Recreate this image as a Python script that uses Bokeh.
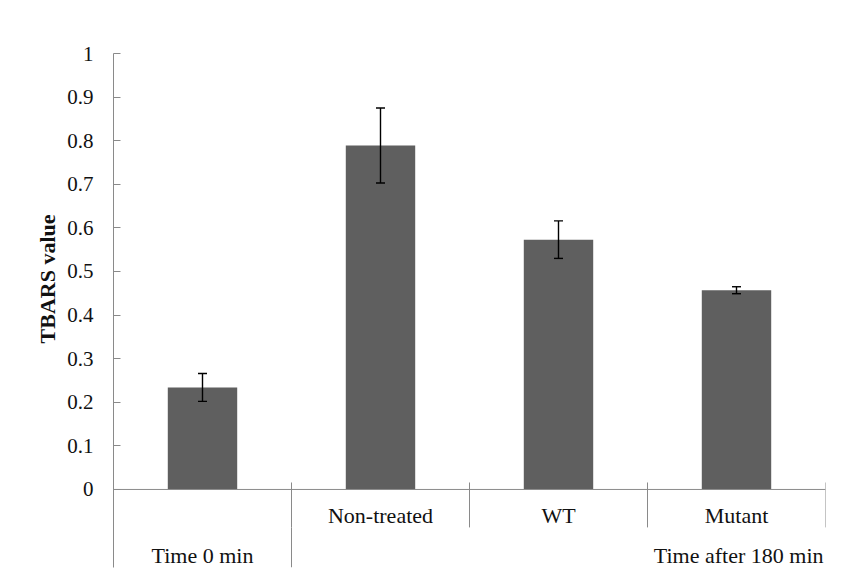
import math
from bokeh.plotting import figure
from bokeh.models import (Range1d, FixedTicker, CustomJSTickFormatter, Whisker, TeeHead,
                          ColumnDataSource, Title)
from bokeh.core.properties import value
from bokeh.embed import file_html
from bokeh.resources import INLINE

# ---- data ----
categories = ["", "Non-treated", "WT", "Mutant"]
tbars_values = [0.234, 0.789, 0.573, 0.457]
tbars_errors = [0.032, 0.086, 0.043, 0.008]
groups = ["Time 0 min", "Time after 180 min"]
group_sizes = [1, 3]
y_ticks = [0, 0.1, 0.2, 0.3, 0.4, 0.5, 0.6, 0.7, 0.8, 0.9, 1.0]
y_label = "TBARS value"

FONT = "Liberation Serif"
TEXT = "#111111"
AXIS = "#8a8a8a"
BAR = "#5f5f5f"

n = len(categories)
centers = [i + 0.5 for i in range(n)]

p = figure(width=857, height=576, output_backend="svg", toolbar_location=None,
           x_range=Range1d(0, n), y_range=Range1d(-0.179, 1.0),
           x_axis_location=None, min_border_left=113, min_border_right=32,
           min_border_top=53, min_border_bottom=9)
p.outline_line_color = None
p.grid.visible = False
p.background_fill_color = "white"
p.border_fill_color = "white"

# y axis
ya = p.yaxis[0]
ya.ticker = FixedTicker(ticks=y_ticks)
ya.formatter = CustomJSTickFormatter(code="return Number(tick.toFixed(1)).toString();")
ya.axis_line_color = AXIS
ya.major_tick_line_color = AXIS
ya.major_tick_in = 7
ya.major_tick_out = 0
ya.minor_tick_line_color = None
ya.major_label_standoff = 20
ya.major_label_text_font = FONT
ya.major_label_text_font_size = "21px"
ya.major_label_text_color = TEXT

# y axis title (placed as a left-side title, offset from the frame top)
p.add_layout(Title(text=y_label, align="right", offset=161, text_font=FONT,
                   text_font_size="22px", text_font_style="bold", text_color=TEXT,
                   standoff=10), "left")

# bars
src = ColumnDataSource(dict(x=centers, top=tbars_values,
                            upper=[v + e for v, e in zip(tbars_values, tbars_errors)],
                            lower=[v - e for v, e in zip(tbars_values, tbars_errors)]))
p.vbar(x="x", top="top", bottom=0, width=0.39, source=src, fill_color=BAR, line_color=None)

w = Whisker(base="x", upper="upper", lower="lower", source=src, level="overlay",
            line_color="black", line_width=1.4,
            upper_head=TeeHead(size=9, line_color="black", line_width=1.4),
            lower_head=TeeHead(size=9, line_color="black", line_width=1.4))
p.add_layout(w)

# baseline (x axis line)
p.segment(x0=[0], y0=[0], x1=[n], y1=[0], line_color=AXIS, line_width=1)

# category separators (level 1)
bounds = list(range(1, n + 1))
p.segment(x0=bounds, y0=[0.016] * len(bounds), x1=bounds, y1=[-0.087] * len(bounds),
          line_color=AXIS, line_width=1)
# group separators (level 2)
gb = [0]
for s in group_sizes:
    gb.append(gb[-1] + s)
inner = gb[1:-1]
p.segment(x0=inner, y0=[-0.087] * len(inner), x1=inner, y1=[-0.179] * len(inner),
          line_color=AXIS, line_width=1)

# category labels
p.text(x=centers, y=[-0.06] * n, text=categories, text_font=value(FONT),
       text_font_size="22px", text_color=TEXT, text_align="center", text_baseline="middle")

# group labels: first centered, second right-aligned (as in source)
p.text(x=[(gb[0] + gb[1]) / 2], y=[-0.151], text=[groups[0]], text_font=value(FONT),
       text_font_size="22px", text_color=TEXT, text_align="center", text_baseline="middle")
p.text(x=[gb[2]], y=[-0.151], text=[groups[1]], text_font=value(FONT), x_offset=-2,
       text_font_size="22px", text_color=TEXT, text_align="right", text_baseline="middle")

open("out.html", "w").write(file_html(p, INLINE))
